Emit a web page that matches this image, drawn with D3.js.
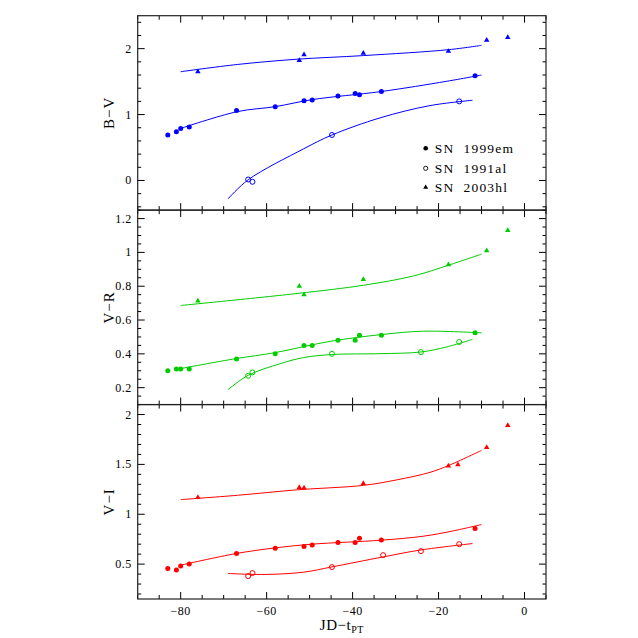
<!DOCTYPE html>
<html>
<head>
<meta charset="utf-8">
<script src="https://cdn.jsdelivr.net/npm/d3@7"></script>
<style>
  body { margin: 0; background: #fff; }
  text { font-family: "Liberation Serif", "DejaVu Serif", serif; fill: #000; }
</style>
</head>
<body>
<svg id="chart" width="638" height="638"></svg>
<script>
// colour evolution of SNe IIP: B-V, V-R, V-I against JD - t_PT

// ---------- data ----------
const PANELS = ["B−V", "V−R", "V−I"];
const PANEL_COLOR = ["#0000ff", "#00cc00", "#ff0000"];
const Y_DOMAIN = [[-0.45, 2.5], [0.1, 1.25], [0.15, 2.1]];
const Y_MAJOR = [[0, 1, 2], [0.2, 0.4, 0.6, 0.8, 1, 1.2], [0.5, 1, 1.5, 2]];
const Y_MINOR_STEP = [0.2, 0.05, 0.1];
const Y_LABELS = [["0", "1", "2"], ["0.2", "0.4", "0.6", "0.8", "1", "1.2"], ["0.5", "1", "1.5", "2"]];
const X_DOMAIN = [-90, 5];
const X_MAJOR = [-80, -60, -40, -20, 0];
const X_LABELS = ["−80", "−60", "−40", "−20", "0"];

const SN_NAMES = ["SN 1999em", "SN 1991al", "SN 2003hl"];

// SN 1999em (filled circles)
const t99em = [-83, -81, -80, -78, -67, -58, -51.3, -49.4, -43.4, -39.4, -38.4, -33.3, -11.5];
const bv99em = [0.69, 0.74, 0.79, 0.81, 1.06, 1.12, 1.21, 1.22, 1.28, 1.32, 1.30, 1.35, 1.59];
const vr99em = [0.30, 0.31, 0.31, 0.31, 0.37, 0.40, 0.45, 0.45, 0.48, 0.48, 0.51, 0.51, 0.525];
const vi99em = [0.457, 0.44, 0.48, 0.50, 0.606, 0.659, 0.676, 0.692, 0.716, 0.716, 0.76, 0.742, 0.857];

// SN 1991al (open circles)
const t91alBV = [-64.3, -63.3, -44.8, -15.2];
const bv91al = [0.015, -0.02, 0.69, 1.20];
const t91alVR = [-64.3, -63.3, -44.8, -24.1, -15.2];
const vr91al = [0.27, 0.29, 0.40, 0.41, 0.47];
const t91alVI = [-64.3, -63.3, -44.8, -32.9, -24.1, -15.2];
const vi91al = [0.38, 0.41, 0.47, 0.59, 0.63, 0.70];

// SN 2003hl (filled triangles)
const t03hl = [-76, -52.4, -51.3, -37.5, -17.7, -8.8, -3.9];
const bv03hl = [1.65, 1.82, 1.91, 1.93, 1.96, 2.13, 2.17];
const vr03hl = [0.713, 0.80, 0.75, 0.84, 0.927, 1.01, 1.13];
const t03hlVI = [-76, -52.4, -51.3, -37.5, -17.7, -15.5, -8.8, -3.9];
const vi03hl = [1.17, 1.27, 1.265, 1.31, 1.484, 1.498, 1.67, 1.89];

// fitted curves
const fitT99 = [-80, -66.8, -58, -49.4, -33.3, -18.1, -10];
const fitBV99 = [0.79, 1.045, 1.12, 1.227, 1.35, 1.505, 1.60];
const fitT03 = [-80, -66.8, -52.9, -37.4, -17.6, -10];
const fitBV03 = [1.65, 1.76, 1.84, 1.895, 1.985, 2.05];
const fitT91BV = [-69, -64.3, -51.4, -44.8, -33.6, -22, -12.1];
const fitBV91 = [-0.28, 0.01, 0.48, 0.69, 0.95, 1.136, 1.217];

const fitT99VR = [-80, -67.1, -58.1, -45.2, -33.3, -23.5, -10];
const fitVR99 = [0.313, 0.372, 0.407, 0.474, 0.514, 0.534, 0.524];
const fitT03VR = [-80, -52.9, -37.4, -25.8, -17.6, -10];
const fitVR03 = [0.686, 0.757, 0.806, 0.861, 0.925, 0.99];
const fitT91VR = [-69, -64.3, -56.8, -51.4, -44.8, -33.6, -24.1, -18.1, -12.1];
const fitVR91 = [0.188, 0.273, 0.342, 0.378, 0.396, 0.401, 0.411, 0.441, 0.486];

const fitT99VI = [-80, -67.1, -58.1, -49.4, -33.3, -23.5, -16.6, -10];
const fitVI99 = [0.489, 0.606, 0.662, 0.70, 0.74, 0.78, 0.833, 0.897];
const fitT03VI = [-80, -66.8, -52.9, -37.4, -29.7, -22, -17.6, -10];
const fitVI03 = [1.147, 1.19, 1.245, 1.29, 1.345, 1.42, 1.49, 1.64];
const fitT91VI = [-69, -60.6, -51.4, -44.8, -32.9, -24.1, -12.1];
const fitVI91 = [0.406, 0.396, 0.419, 0.472, 0.572, 0.642, 0.706];

const zip = (xs, ys) => xs.map((x, i) => ({ x, y: ys[i] }));

const panelData = [
  {
    em: zip(t99em, bv99em), al: zip(t91alBV, bv91al), hl: zip(t03hl, bv03hl),
    fits: [zip(fitT99, fitBV99), zip(fitT03, fitBV03), zip(fitT91BV, fitBV91)],
  },
  {
    em: zip(t99em, vr99em), al: zip(t91alVR, vr91al), hl: zip(t03hl, vr03hl),
    fits: [zip(fitT99VR, fitVR99), zip(fitT03VR, fitVR03), zip(fitT91VR, fitVR91)],
  },
  {
    em: zip(t99em, vi99em), al: zip(t91alVI, vi91al), hl: zip(t03hlVI, vi03hl),
    fits: [zip(fitT99VI, fitVI99), zip(fitT03VI, fitVI03), zip(fitT91VI, fitVI91)],
  },
];

// ---------- layout ----------
const svg = d3.select("#chart");
const M = { left: 137.7, right: 546, top: 15.7, bottom: 599 };
const panelH = (M.bottom - M.top) / 3;
const x = d3.scaleLinear().domain(X_DOMAIN).range([M.left, M.right]);
const xMinor = d3.range(-90, 5.01, 5);

const tri = d3.symbol().type(d3.symbolTriangle).size(13);

panelData.forEach((pd, i) => {
  const y0 = M.top + i * panelH, y1 = y0 + panelH;
  const y = d3.scaleLinear().domain(Y_DOMAIN[i]).range([y1, y0]);
  const col = PANEL_COLOR[i];
  const g = svg.append("g");

  // clip so curves stay inside the frame
  const clipId = `clip${i}`;
  g.append("clipPath").attr("id", clipId)
    .append("rect").attr("x", M.left).attr("y", y0).attr("width", M.right - M.left).attr("height", panelH);

  const marks = g.append("g").attr("clip-path", `url(#${clipId})`);

  const line = d3.line().x((d) => x(d.x)).y((d) => y(d.y)).curve(d3.curveCatmullRom.alpha(0.5));
  marks.selectAll("path.fit")
    .data(pd.fits)
    .join("path")
    .attr("class", "fit")
    .attr("d", line)
    .attr("fill", "none")
    .attr("stroke", col)
    .attr("stroke-width", 1);

  marks.selectAll("circle.em")
    .data(pd.em)
    .join("circle")
    .attr("class", "em")
    .attr("cx", (d) => x(d.x))
    .attr("cy", (d) => y(d.y))
    .attr("r", 2.5)
    .attr("fill", col);

  marks.selectAll("circle.al")
    .data(pd.al)
    .join("circle")
    .attr("class", "al")
    .attr("cx", (d) => x(d.x))
    .attr("cy", (d) => y(d.y))
    .attr("r", 2.5)
    .attr("fill", "none")
    .attr("stroke", col)
    .attr("stroke-width", 1);

  marks.selectAll("path.hl")
    .data(pd.hl)
    .join("path")
    .attr("class", "hl")
    .attr("transform", (d) => `translate(${x(d.x)},${y(d.y)})`)
    .attr("d", tri)
    .attr("fill", col);

  // ticks: y on left and right, x on top and bottom, pointing inwards
  const [lo, hi] = Y_DOMAIN[i];
  const step = Y_MINOR_STEP[i];
  const yMinor = d3.range(Math.ceil(lo / step - 1e-6) * step, hi + 1e-6, step)
    .map((v) => Math.round(v * 1000) / 1000);
  const ax = g.append("g").attr("stroke", "#000").attr("stroke-width", 1);
  yMinor.forEach((v) => {
    const major = Y_MAJOR[i].some((m) => Math.abs(m - v) < 1e-6);
    const len = major ? 7 : 3.5;
    ax.append("line").attr("x1", M.left).attr("x2", M.left + len).attr("y1", y(v)).attr("y2", y(v));
    ax.append("line").attr("x1", M.right).attr("x2", M.right - len).attr("y1", y(v)).attr("y2", y(v));
  });
  xMinor.forEach((v) => {
    const major = v % 20 === 0;
    const len = major ? 7 : 4;
    ax.append("line").attr("y1", y1).attr("y2", y1 - len).attr("x1", x(v)).attr("x2", x(v));
    ax.append("line").attr("y1", y0).attr("y2", y0 + len).attr("x1", x(v)).attr("x2", x(v));
  });

  g.selectAll("text.ytick")
    .data(Y_MAJOR[i])
    .join("text")
    .attr("class", "ytick")
    .attr("x", M.left - 6)
    .attr("y", (d) => y(d) + 4)
    .attr("text-anchor", "end")
    .attr("font-size", 12)
    .attr("letter-spacing", 0.5)
    .text((d, j) => Y_LABELS[i][j]);

  g.append("text")
    .attr("transform", `translate(${M.left - 24},${(y0 + y1) / 2}) rotate(-90)`)
    .attr("text-anchor", "middle")
    .attr("font-size", 15)
    .attr("letter-spacing", 1)
    .text(PANELS[i]);

  g.append("rect")
    .attr("x", M.left).attr("y", y0).attr("width", M.right - M.left).attr("height", panelH)
    .attr("fill", "none").attr("stroke", "#222").attr("stroke-width", 1.2);
});

// x tick labels and title
svg.selectAll("text.xtick")
  .data(X_MAJOR)
  .join("text")
  .attr("class", "xtick")
  .attr("x", (d) => x(d))
  .attr("y", M.bottom + 16)
  .attr("text-anchor", "middle")
  .attr("font-size", 12)
  .attr("letter-spacing", 0.5)
  .text((d, j) => X_LABELS[j]);

const xt = svg.append("text")
  .attr("x", x(-42.5))
  .attr("y", M.bottom + 31)
  .attr("text-anchor", "middle")
  .attr("font-size", 15)
  .attr("letter-spacing", 0.5);
xt.append("tspan").text("JD−t");
xt.append("tspan").attr("font-size", 10).attr("dy", 3).text("PT");

// legend inside the top panel
const legend = svg.append("g");
const legY = [148.3, 168.3, 187.3];
const legX = 425.7;
legend.append("circle").attr("cx", legX).attr("cy", legY[0]).attr("r", 2.3).attr("fill", "#000");
legend.append("circle").attr("cx", legX).attr("cy", legY[1]).attr("r", 2.1)
  .attr("fill", "none").attr("stroke", "#000").attr("stroke-width", 0.9);
legend.append("path").attr("transform", `translate(${legX},${legY[2]})`)
  .attr("d", d3.symbol().type(d3.symbolTriangle).size(11)).attr("fill", "#000");
legend.selectAll("text")
  .data(SN_NAMES)
  .join("text")
  .attr("x", legX + 9)
  .attr("y", (d, j) => legY[j] + 4.5)
  .attr("font-size", 13.5)
  .attr("letter-spacing", 1.2)
  .attr("xml:space", "preserve")
  .text((d) => d.replace(" ", "  "));
</script>
</body>
</html>
